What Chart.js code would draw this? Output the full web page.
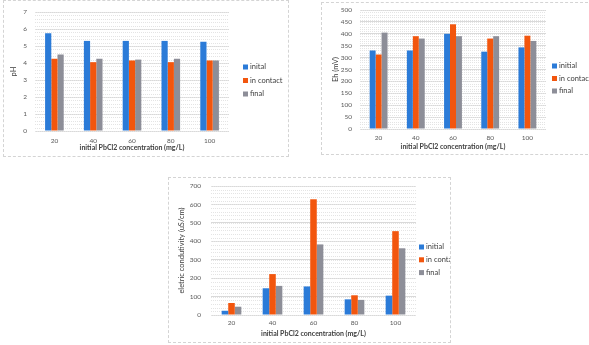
<!DOCTYPE html>
<html>
<head>
<meta charset="utf-8">
<script src="https://cdn.jsdelivr.net/npm/chart.js@4"></script>
<style>
  html, body { margin: 0; padding: 0; background: #fff; }
  body { width: 589px; height: 345px; position: relative; overflow: hidden; }
  .box { position: absolute; overflow: hidden; border: 1px dashed #d4d4d4; background: #fff; box-sizing: border-box; }
  .box canvas { position: absolute; left: 0; top: 0; }
</style>
</head>
<body>
<div class="box" style="left:3px;top:0px;width:286px;height:157px;"><canvas id="phChart" width="286" height="156"></canvas></div>
<div class="box" style="left:321px;top:2px;width:272px;height:153px;"><canvas id="ehChart" width="268" height="152"></canvas></div>
<div class="box" style="left:168px;top:177px;width:283px;height:166px;"><canvas id="ecChart" width="300" height="164"></canvas></div>
<script>
const concentrations = ["20", "40", "60", "80", "100"];

const phInitial = [5.75, 5.3, 5.3, 5.3, 5.25];
const phContact = [4.25, 4.05, 4.15, 4.05, 4.15];
const phFinal = [4.5, 4.25, 4.2, 4.25, 4.15];

const ehInitial = [330, 330, 400, 325, 343];
const ehContact = [313, 390, 440, 380, 392];
const ehFinal = [405, 380, 390, 390, 370];

const ecInitial = [23, 145, 155, 85, 105];
const ecContact = [65, 222, 628, 107, 455];
const ecFinal = [45, 158, 383, 82, 362];

const blue = "#2b7bd8";
const orange = "#f2560e";
const gray = "#8d8e98";

Chart.defaults.font.family = "Lato, 'Open Sans', sans-serif";
Chart.defaults.font.size = 6.5;
Chart.defaults.color = "#595959";

// dotted minor gridlines between the major ones
const minorGrid = {
    id: "minorGrid",
    beforeDatasetsDraw(chart, args, opts) {
        const { ctx, chartArea, scales: { y } } = chart;
        const n = Math.round(y.max / opts.step);
        ctx.save();
        ctx.strokeStyle = "#e4e4e4";
        ctx.lineWidth = 1;
        ctx.setLineDash([1, 1]);
        for (let i = 0; i <= n; i++) {
            const py = Math.round(y.getPixelForValue(i * opts.step)) + 0.5;
            ctx.beginPath();
            ctx.moveTo(chartArea.left, py);
            ctx.lineTo(chartArea.right, py);
            ctx.stroke();
        }
        ctx.restore();
    }
};

// Excel-like legend to the right of the plot
const sideLegend = {
    id: "sideLegend",
    afterDraw(chart, args, opts) {
        const { ctx, chartArea } = chart;
        ctx.save();
        ctx.font = "7.5px Lato, sans-serif";
        ctx.textBaseline = "middle";
        chart.data.datasets.forEach((ds, i) => {
            const x = chartArea.right + opts.offset;
            const y = opts.top + i * opts.spacing;
            ctx.fillStyle = ds.backgroundColor;
            ctx.fillRect(x, y - 2.5, 5, 5);
            ctx.fillStyle = "#404040";
            ctx.fillText(ds.label, x + 7, y);
        });
        ctx.restore();
    }
};

function makeChart(id, labels, series, cfg) {
    new Chart(document.getElementById(id), {
        type: "bar",
        data: {
            labels: concentrations,
            datasets: series.map((data, i) => ({
                label: labels[i],
                data: data,
                backgroundColor: [blue, orange, gray][i],
                barPercentage: 1,
                categoryPercentage: 0.48
            }))
        },
        plugins: [minorGrid, sideLegend],
        options: {
            responsive: false,
            animation: false,
            layout: { padding: cfg.padding },
            plugins: {
                tooltip: { enabled: false },
                legend: { display: false },
                minorGrid: { step: cfg.step / 5 },
                sideLegend: cfg.legend
            },
            scales: {
                x: {
                    grid: { display: false, drawTicks: false },
                    border: { display: false },
                    ticks: { padding: cfg.xTickPad, font: { lineHeight: 1 } },
                    title: {
                        display: true,
                        text: "initial PbCl2 concentration (mg/L)",
                        color: "#404040",
                        font: { size: 7, weight: "bold", lineHeight: 1 },
                        padding: { top: 0, bottom: cfg.xTitlePad }
                    },
                    afterFit: scale => {
                        scale.height = cfg.xHeight;
                        scale.paddingLeft = 0;
                        scale.paddingRight = 0;
                    }
                },
                y: {
                    min: 0,
                    max: cfg.max,
                    ticks: { stepSize: cfg.step, padding: cfg.yTickPad, font: { lineHeight: 1 } },
                    border: { display: false },
                    grid: { color: "#d9d9d9", drawTicks: false },
                    title: {
                        display: true,
                        text: cfg.yTitle,
                        color: "#404040",
                        font: { size: 7.5, lineHeight: 1 },
                        padding: { top: cfg.yTitlePad, bottom: 0 }
                    },
                    afterFit: scale => {
                        scale.width = cfg.yWidth;
                        scale.paddingTop = 0;
                        scale.paddingBottom = 0;
                    }
                }
            }
        }
    });
}

makeChart("phChart", ["inital", "in contact", "final"], [phInitial, phContact, phFinal], {
    yTitle: "pH", max: 7, step: 1,
    padding: { left: 0, top: 11, right: 61, bottom: 0 },
    yWidth: 31, yTickPad: 8, yTitlePad: 6.25,
    xHeight: 26, xTickPad: 6.75, xTitlePad: 5.5,
    legend: { offset: 14, top: 66, spacing: 13.5 }
});
makeChart("ehChart", ["initial", "in contact", "final"], [ehInitial, ehContact, ehFinal], {
    yTitle: "Eh (mV)", max: 500, step: 50,
    padding: { left: 0, top: 7, right: 44, bottom: 0 },
    yWidth: 38, yTickPad: 8, yTitlePad: 9.5,
    xHeight: 26, xTickPad: 5.75, xTitlePad: 4.5,
    legend: { offset: 6, top: 63, spacing: 12.5 }
});
makeChart("ecChart", ["initial", "in contact", "final"], [ecInitial, ecContact, ecFinal], {
    yTitle: "eletric condutivity (uS/cm)", max: 700, step: 100,
    padding: { left: 0, top: 8, right: 53, bottom: 0 },
    yWidth: 42, yTickPad: 10, yTitlePad: 9.25,
    xHeight: 27, xTickPad: 4.75, xTitlePad: 4.5,
    legend: { offset: 3, top: 69, spacing: 12.8 }
});
</script>
</body>
</html>
